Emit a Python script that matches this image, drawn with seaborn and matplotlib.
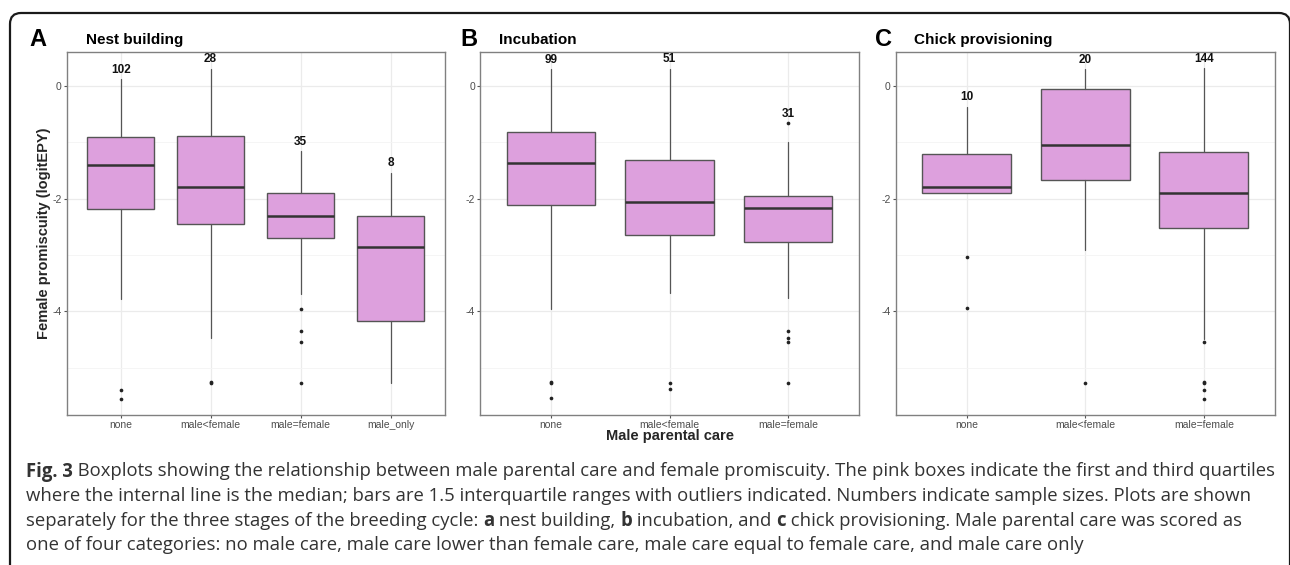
import matplotlib
matplotlib.use("Agg")
import matplotlib.pyplot as plt
import seaborn as sns
import numpy as np
import pandas as pd
from matplotlib.patches import FancyBboxPatch
from matplotlib.transforms import IdentityTransform

# ---------------- data ----------------
stage_titles = ["Nest building", "Incubation", "Chick provisioning"]
panel_letters = ["A", "B", "C"]

nest_categories = ["none", "male<female", "male=female", "male_only"]
nest_whislo = [-3.78, -4.47, -3.69, -5.27]
nest_q1 = [-2.19, -2.45, -2.69, -4.17]
nest_median = [-1.41, -1.785, -2.30, -2.85]
nest_q3 = [-0.91, -0.88, -1.90, -2.30]
nest_whishi = [0.12, 0.31, -1.16, -1.54]
nest_outliers = [[-5.39, -5.55], [-5.26, -5.28], [-3.96, -4.34, -4.54, -5.28], []]
nest_n = [102, 28, 35, 8]

inc_categories = ["none", "male<female", "male=female"]
inc_whislo = [-3.96, -3.68, -3.77]
inc_q1 = [-2.12, -2.65, -2.76]
inc_median = [-1.37, -2.05, -2.165]
inc_q3 = [-0.81, -1.32, -1.945]
inc_whishi = [0.30, 0.31, -0.985]
inc_outliers = [[-5.25, -5.28, -5.54], [-5.27, -5.38], [-0.66, -4.34, -4.47, -4.54, -5.28]]
inc_n = [99, 51, 31]

chick_categories = ["none", "male<female", "male=female"]
chick_whislo = [-1.90, -2.91, -4.49]
chick_q1 = [-1.90, -1.66, -2.52]
chick_median = [-1.80, -1.04, -1.90]
chick_q3 = [-1.20, -0.06, -1.17]
chick_whishi = [-0.37, 0.30, 0.32]
chick_outliers = [[-3.04, -3.94], [-5.28], [-4.54, -5.25, -5.28, -5.39, -5.55]]
chick_n = [10, 20, 144]

y_ticks = [-4, -2, 0]
y_minor = [-5, -3, -1]

x_label = "Male parental care"
y_label = "Female promiscuity (logitEPY)"

caption_lines = [
    [("Fig. 3", True), (" Boxplots showing the relationship between male parental care and female promiscuity. The pink boxes indicate the first and third quartiles", False)],
    [("where the internal line is the median; bars are 1.5 interquartile ranges with outliers indicated. Numbers indicate sample sizes. Plots are shown", False)],
    [("separately for the three stages of the breeding cycle: ", False), ("a", True), (" nest building, ", False), ("b", True),
     (" incubation, and ", False), ("c", True), (" chick provisioning. Male parental care was scored as", False)],
    [("one of four categories: no male care, male care lower than female care, male care equal to female care, and male care only", False)],
]

# ---------------- style ----------------
sns.set_theme(style="whitegrid")
plt.rcParams['font.family'] = ['Liberation Sans', 'DejaVu Sans']
plt.rcParams['axes.unicode_minus'] = False

W, H = 1290, 565
fig = plt.figure(figsize=(W / 100, H / 100), dpi=100)
fig.patch.set_facecolor("white")

BOX_FILL = "#DDA0DD"
EDGE = "#555555"

panels = [
    (nest_categories, nest_whislo, nest_q1, nest_median, nest_q3, nest_whishi, nest_outliers, nest_n),
    (inc_categories, inc_whislo, inc_q1, inc_median, inc_q3, inc_whishi, inc_outliers, inc_n),
    (chick_categories, chick_whislo, chick_q1, chick_median, chick_q3, chick_whishi, chick_outliers, chick_n),
]

# axes rectangles in pixels: left, right, top, bottom
ax_px = [(66.7, 444.5), (480.0, 859.0), (895.7, 1275.0)]
ax_top, ax_bot = 51.7, 415.0
letter_x = [29, 460, 875]
title_x = [86, 499, 914]

for i, (cats, wlo, q1, med, q3, whi, outs, ns) in enumerate(panels):
    l, r = ax_px[i]
    ax = fig.add_axes([l / W, 1 - ax_bot / H, (r - l) / W, (ax_bot - ax_top) / H])
    ax.set_facecolor("white")
    stats = []
    for k, c in enumerate(cats):
        stats.append(dict(label=c, whislo=wlo[k], q1=q1[k], med=med[k], q3=q3[k], whishi=whi[k], fliers=[]))
    pos = list(range(len(cats)))
    ax.bxp(stats, positions=pos, widths=0.75, patch_artist=True, showfliers=False, showcaps=False,
           boxprops=dict(facecolor=BOX_FILL, edgecolor=EDGE, linewidth=1.0),
           medianprops=dict(color="#333333", linewidth=1.8),
           whiskerprops=dict(color=EDGE, linewidth=0.9), zorder=2)
    # outliers
    ox, oy = [], []
    for k, vals in enumerate(outs):
        for v in vals:
            ox.append(pos[k]); oy.append(v)
    if ox:
        df = pd.DataFrame({"x": ox, "y": oy})
        sns.scatterplot(data=df, x="x", y="y", ax=ax, color="#222222", s=7, linewidth=0, legend=False, zorder=3)
    # sample sizes
    for k, n in enumerate(ns):
        top = max([whi[k]] + list(outs[k]))
        ax.annotate(str(n), xy=(pos[k], top), xytext=(0, 2.5), textcoords="offset points",
                    ha="center", va="bottom", fontsize=8.5, fontweight="bold", color="#111111")
    ax.set_xlim(-0.6, len(cats) - 0.4)
    ax.set_ylim(-5.84, 0.61)
    ax.set_xticks(pos)
    ax.set_xticklabels(cats)
    ax.set_yticks(y_ticks)
    ax.set_yticklabels([str(t) for t in y_ticks])
    ax.set_yticks(y_minor, minor=True)
    ax.set_xlabel("")
    ax.set_ylabel("")
    ax.grid(which="major", color="#EBEBEB", linewidth=0.9)
    ax.grid(which="minor", axis="y", color="#F4F4F4", linewidth=0.6)
    ax.grid(which="minor", axis="x", visible=False)
    ax.set_axisbelow(True)
    ax.tick_params(axis="both", which="major", left=True, bottom=True, length=2.5, width=0.8,
                   color="#555555", labelsize=7.5, labelcolor="#4D4D4D", pad=1.0)
    ax.tick_params(axis="both", which="minor", length=0)
    for sp in ax.spines.values():
        sp.set_visible(True)
        sp.set_color("#808080")
        sp.set_linewidth(1.0)
    fig.text(letter_x[i] / W, 1 - 40 / H, panel_letters[i], fontsize=17, fontweight="bold",
             ha="left", va="center", color="black")
    fig.text(title_x[i] / W, 1 - 40 / H, stage_titles[i], fontsize=11, fontweight="bold",
             ha="left", va="center", color="black")

fig.text(44 / W, 1 - 233 / H, y_label, rotation=90, fontsize=10.5, fontweight="bold", ha="center", va="center")
fig.text(669.5 / W, 1 - 440 / H, x_label, fontsize=10.5, fontweight="bold", ha="center", va="baseline")

# caption
renderer = fig.canvas.get_renderer()
baselines = [476.5, 501, 525.5, 550]
for line, yb in zip(caption_lines, baselines):
    x = 26.0
    for txt, bold in line:
        t = fig.text(x / W, 1 - yb / H, txt, fontsize=13.35, family=["Open Sans", "DejaVu Sans"],
                     fontweight="bold" if bold else "normal",
                     color="#333333", ha="left", va="baseline")
        bb = t.get_window_extent(renderer=renderer)
        x += bb.width

# rounded border
border = FancyBboxPatch((10, -30), 1280, H - 13 + 30, boxstyle="round,pad=0,rounding_size=11",
                        transform=IdentityTransform(), fill=False, edgecolor="#1a1a1a", linewidth=1.6)
fig.add_artist(border)

fig.savefig("out.png", dpi=100, facecolor="white")
